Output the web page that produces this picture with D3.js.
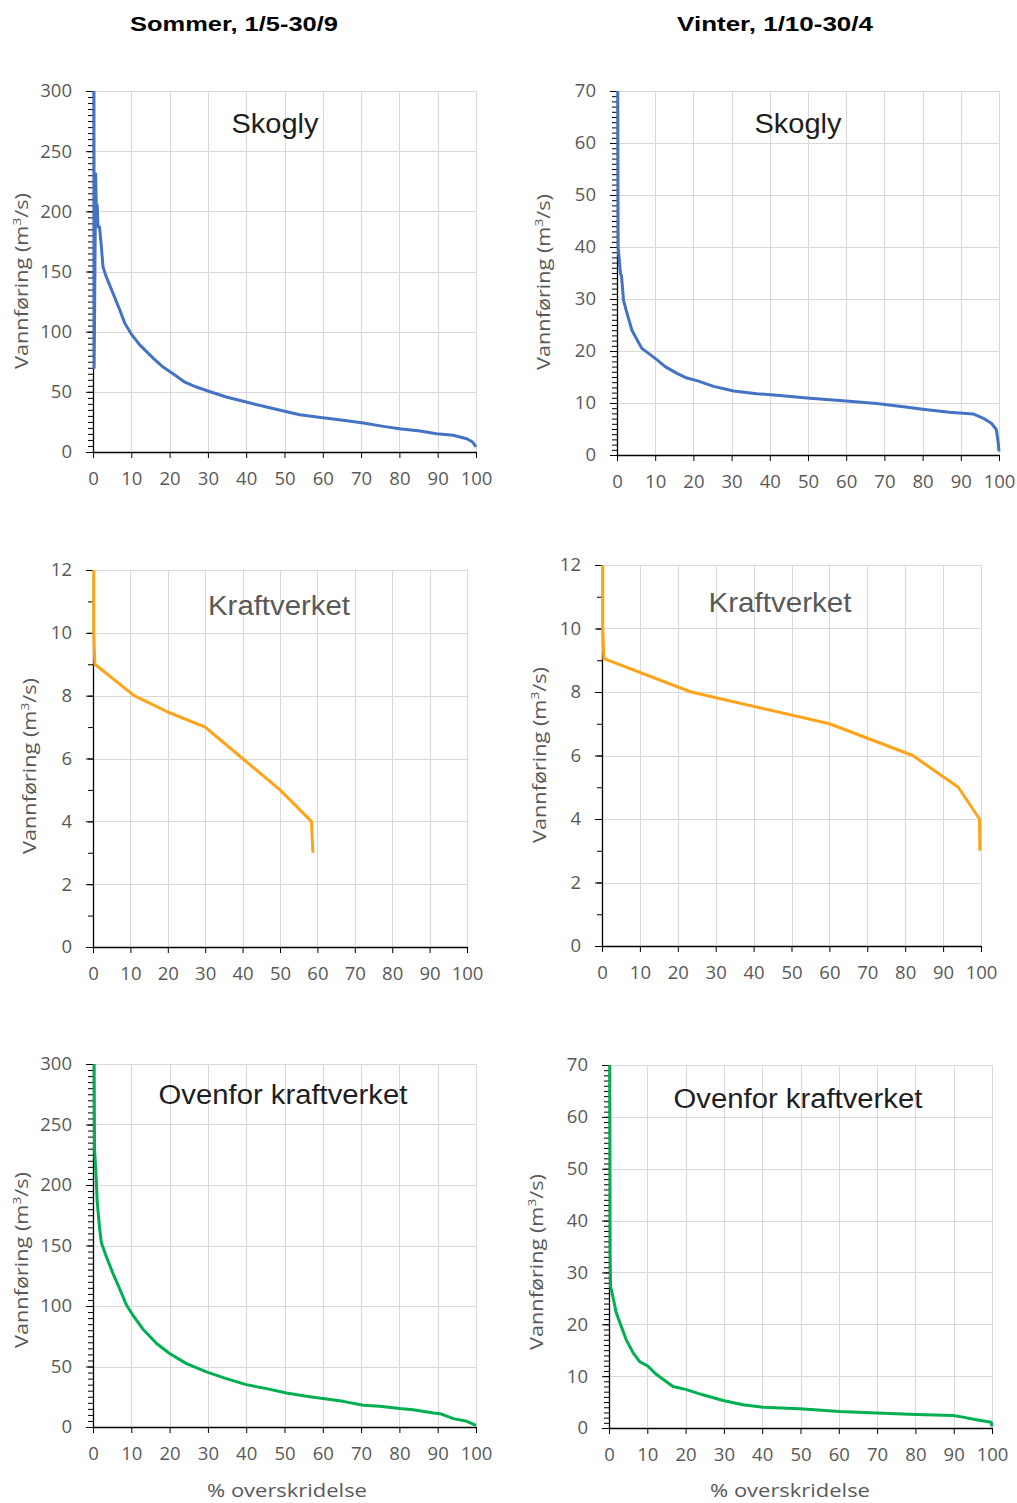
<!DOCTYPE html>
<html>
<head>
<meta charset="utf-8">
<script src="https://cdn.jsdelivr.net/npm/d3@7"></script>
<style>
  body { margin: 0; background: #fff; }
  svg { display: block; }
</style>
</head>
<body>
<div id="chart"></div>
<script>
// duration curves, [% overskridelse, vannføring m3/s]
var sommerSkogly = [[0.25,300],[0.3,70],[0.7,231],[0.9,198],[1.1,205],[1.3,187],[1.7,187],[2.2,170],[2.6,154],[3.3,147],[5.2,132],[7,118],[8.3,107],[10,98],[12.2,89],[15.7,78],[18.3,70.6],[20.9,65],[24,58],[27,54],[30,50.7],[34.8,45.7],[40,41.5],[45.3,37.4],[50,33.8],[54,31],[60,28.5],[65.3,26.3],[70.6,24.1],[75.8,21.3],[80,19.4],[85.4,17.5],[89.7,15.2],[94,13.9],[97.6,11],[99.1,8.3],[100,4.2]];
var vinterSkogly = [[0.2,70],[0.3,40],[0.9,35],[1.2,34.3],[1.7,29.8],[2.6,27.3],[3.9,24],[5,22.5],[6.5,20.5],[8.7,19.3],[10.5,18.3],[12.6,17],[15.7,15.7],[18.3,14.8],[20.9,14.3],[25.3,13.2],[30.5,12.3],[36.6,11.8],[41.8,11.5],[50.5,10.9],[60,10.4],[68,9.9],[75,9.3],[80,8.8],[87,8.2],[93.2,7.9],[95.8,7.1],[98,6.1],[99.3,4.9],[99.8,2.3],[100,0.7]];
var sommerKraft = [[0.2,12],[0.2,10],[0.5,9],[11,8],[20,7.48],[30,7],[40,6],[50,5],[58.4,4],[58.8,3]];
var vinterKraft = [[0.2,12],[0.2,10],[0.5,9.05],[23.5,8],[60,7],[82,6],[94,5],[99.6,4],[99.7,3]];
var sommerOvenfor = [[0.3,300],[0.4,230],[0.9,201],[1.1,186],[1.7,165],[2.2,152],[3.5,140.6],[5.2,127],[7,114],[8.7,101],[10.5,92],[13,81],[16.6,69],[20,60.7],[24.4,52.4],[29.6,45.5],[34.8,40],[40,35],[45.3,31.7],[50.5,28.1],[55.7,25.4],[60.5,23.4],[65.3,21.2],[70.6,17.9],[74.9,17.1],[80.1,15.2],[83.6,14.3],[88.9,11.6],[90.6,11],[94.1,6.9],[97.6,4.7],[100,1.4]];
var vinterOvenfor = [[0.2,70],[0.3,33.7],[0.4,27.3],[1,25.4],[1.9,22.2],[3.2,19.6],[4.5,17],[6.3,14.5],[8,12.8],[10.2,11.9],[12.4,10.3],[16.7,8],[20.2,7.4],[24.5,6.4],[29.8,5.3],[35,4.5],[40.2,4],[49.8,3.7],[60.2,3.2],[69.8,2.9],[80.2,2.6],[89.8,2.4],[92.4,2.1],[95.9,1.6],[99.8,1.1],[100,0.3]];

var xTicks = [0,10,20,30,40,50,60,70,80,90,100];
var seasonTitles = ["Sommer, 1/5-30/9", "Vinter, 1/10-30/4"];
var yTitle = "Vannføring (m";
var xTitle = "% overskridelse";

var blue = "#4472c4", orange = "#ffa31a", green = "#00b050";

// layout: plot box [left, top, right, bottom], inner title [cx, baseline, width], y label [baseline x, cy]
var panels = [
  {data: sommerSkogly, color: blue, yMax: 300, major: 50, minor: 5, box: [93,91,476,452], title: "Skogly", tcol: "#1e1e1e", tpos: [275,133,87], ylab: [28,281]},
  {data: vinterSkogly, color: blue, yMax: 70, major: 10, minor: 1, box: [617,91,999,455], title: "Skogly", tcol: "#1e1e1e", tpos: [798,133,87], ylab: [550,282]},
  {data: sommerKraft, color: orange, yMax: 12, major: 2, minor: 1, box: [93,570,467,947], title: "Kraftverket", tcol: "#595959", tpos: [279,615,142], ylab: [36,766]},
  {data: vinterKraft, color: orange, yMax: 12, major: 2, minor: 1, box: [602,565,981,946], title: "Kraftverket", tcol: "#595959", tpos: [780,612,143], ylab: [546,755]},
  {data: sommerOvenfor, color: green, yMax: 300, major: 50, minor: 5, box: [93,1064,476,1427], title: "Ovenfor kraftverket", tcol: "#1e1e1e", tpos: [283,1104,249], ylab: [28,1260], xlab: [287,1497]},
  {data: vinterOvenfor, color: green, yMax: 70, major: 10, minor: 1, box: [609,1065,992,1428], title: "Ovenfor kraftverket", tcol: "#1e1e1e", tpos: [798,1108,249], ylab: [543,1262], xlab: [790,1497]}
];

var width = 1017, height = 1503;

var svg = d3.select("#chart").append("svg")
    .attr("width", width)
    .attr("height", height);

// stretch a text element horizontally (in its own frame) to a given length
function fit(sel, target) {
  var node = sel.node();
  var l = node.getComputedTextLength();
  var t = sel.attr("transform") || "";
  sel.attr("transform", t + " scale(" + (target / l) + ",1)");
}

// season headings
[[234, 31, 208], [775, 31, 196]].forEach(function(p, i) {
  var t = svg.append("text")
      .attr("transform", "translate(" + p[0] + "," + p[1] + ")")
      .attr("text-anchor", "middle")
      .style("font-family", "'Liberation Sans', Arial, sans-serif")
      .style("font-weight", "bold")
      .style("font-size", "21px")
      .style("fill", "#000")
      .text(seasonTitles[i]);
  fit(t, p[2]);
});

panels.forEach(function(p) {
  var b = p.box;
  var w = b[2] - b[0], h = b[3] - b[1];

  var x = d3.scaleLinear().domain([0, 100]).range([0, w]);
  var y = d3.scaleLinear().domain([0, p.yMax]).range([h, 0]);

  var g = svg.append("g")
      .attr("transform", "translate(" + b[0] + "," + b[1] + ")");

  // grid
  g.append("g").selectAll("line.h")
    .data(d3.range(p.major, p.yMax + 0.001, p.major))
    .enter().append("line")
      .attr("x1", 0).attr("x2", w)
      .attr("y1", function(d) { return Math.round(y(d)) + 0.5; })
      .attr("y2", function(d) { return Math.round(y(d)) + 0.5; })
      .style("stroke", "#d9d9d9");
  g.append("g").selectAll("line.v")
    .data(xTicks.slice(1))
    .enter().append("line")
      .attr("y1", 0).attr("y2", h)
      .attr("x1", function(d) { return Math.round(x(d)) + 0.5; })
      .attr("x2", function(d) { return Math.round(x(d)) + 0.5; })
      .style("stroke", "#d9d9d9");

  // minor y ticks
  g.append("g")
      .call(d3.axisLeft(y).tickValues(d3.range(0, p.yMax + 0.001, p.minor)).tickSize(5).tickFormat(""))
      .call(function(a) { a.select(".domain").remove(); })
      .selectAll("line").style("stroke", "#000");

  // major y axis
  var ya = g.append("g")
      .call(d3.axisLeft(y).tickValues(d3.range(0, p.yMax + 0.001, p.major)).tickSize(7).tickPadding(14).tickSizeOuter(0));
  ya.select(".domain").style("stroke", "#000").style("stroke-width", 1.3);
  ya.selectAll("line").style("stroke", "#000");
  ya.selectAll("text")
      .style("font-family", "'Open Sans', sans-serif")
      .style("font-size", "18.5px")
      .style("fill", "#595959");

  // x axis
  var xa = g.append("g")
      .attr("transform", "translate(0," + h + ")")
      .call(d3.axisBottom(x).tickValues(xTicks).tickSize(6).tickPadding(14).tickSizeOuter(0));
  xa.select(".domain").style("stroke", "#000").style("stroke-width", 1.3);
  xa.selectAll("line").style("stroke", "#000");
  xa.selectAll("text")
      .style("font-family", "'Open Sans', sans-serif")
      .style("font-size", "18.5px")
      .style("fill", "#595959");

  // curve
  var line = d3.line()
      .x(function(d) { return x(d[0]); })
      .y(function(d) { return y(d[1]); });

  g.append("path")
      .datum(p.data)
      .attr("d", line)
      .style("fill", "none")
      .style("stroke", p.color)
      .style("stroke-width", 3)
      .style("stroke-linejoin", "round");

  // inner title
  var t = svg.append("text")
      .attr("transform", "translate(" + p.tpos[0] + "," + p.tpos[1] + ")")
      .attr("text-anchor", "middle")
      .style("font-family", "'Liberation Sans', Arial, sans-serif")
      .style("font-size", "28px")
      .style("fill", p.tcol)
      .text(p.title);
  fit(t, p.tpos[2]);

  // y label
  var yl = svg.append("text")
      .attr("transform", "translate(" + p.ylab[0] + "," + p.ylab[1] + ") rotate(-90)")
      .attr("text-anchor", "middle")
      .style("font-family", "'Open Sans', sans-serif")
      .style("font-size", "17.5px")
      .style("fill", "#595959");
  yl.append("tspan").text(yTitle);
  yl.append("tspan").attr("dy", -7).style("font-size", "11px").text("3");
  yl.append("tspan").attr("dy", 7).text("/s)");
  fit(yl, 176);

  // x label
  if (p.xlab) {
    var xl = svg.append("text")
        .attr("transform", "translate(" + p.xlab[0] + "," + p.xlab[1] + ")")
        .attr("text-anchor", "middle")
        .style("font-family", "'Open Sans', sans-serif")
        .style("font-size", "17.5px")
        .style("fill", "#595959")
        .text(xTitle);
    fit(xl, 160);
  }
});
</script>
</body>
</html>
